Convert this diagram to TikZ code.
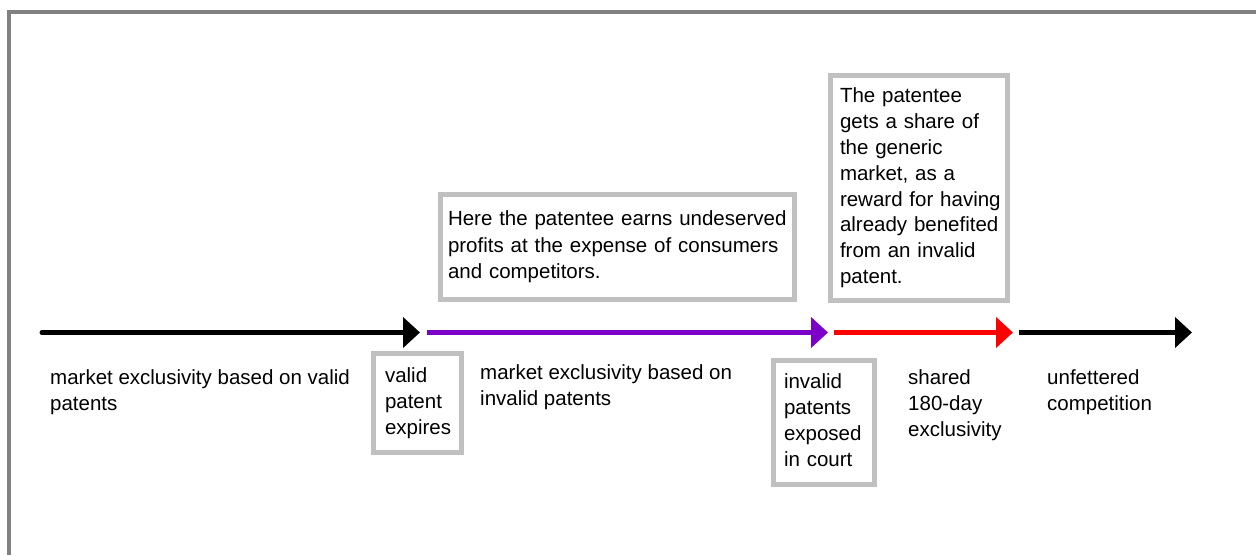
\documentclass[tikz,border=0pt]{standalone}
\usepackage{fontspec}
\setmainfont{Liberation Sans}
\usetikzlibrary{arrows.meta}
\definecolor{framegray}{HTML}{808080}
\definecolor{boxgray}{HTML}{C0C0C0}
\definecolor{segpurple}{RGB}{125,0,200}
\definecolor{segred}{RGB}{255,0,0}
\hyphenpenalty=10000
\exhyphenpenalty=10000
\tikzset{
  txtfont/.style={font=\fontsize{20.5}{26}\selectfont},
  freetext/.style={txtfont, anchor=north west, inner sep=0pt, align=left},
  graybox/.style={txtfont, draw=boxgray, line width=5pt, fill=white, rectangle,
     inner ysep=0pt, align=left},
  seg/.style={line width=5pt, -{Triangle[length=17pt, width=30pt]}},
}
\begin{document}
\begin{tikzpicture}[x=1pt,y=-1pt]
\useasboundingbox (0,0) rectangle (1256,555);
% frame (left and top only)
\draw[framegray, line width=4pt] (9,555) -- (9,12) -- (1256,12);

% timeline coordinates
\coordinate (t0) at (42,332.5);
\coordinate (t1) at (420,332.5);
\coordinate (t2) at (427,332.5);
\coordinate (t3) at (828,332.5);
\coordinate (t4) at (834,332.5);
\coordinate (t5) at (1013,332.5);
\coordinate (t6) at (1019,332.5);
\coordinate (t7) at (1192,332.5);

\draw[seg, black, line cap=round] (t0) -- (t1);
\draw[seg, segpurple] (t2) -- (t3);
\draw[seg, segred] (t4) -- (t5);
\draw[seg, black] (t6) -- (t7);

% boxes
\node[graybox, minimum width=88pt, minimum height=99pt, inner xsep=11.5pt, text width=65pt]
  (vpe) at (417.5,403) {\strut valid\\patent\\\mbox{expires}\strut};
\node[graybox, minimum width=101pt, minimum height=124pt, inner xsep=10.5pt, text width=80pt]
  (ipe) at (824,422.5) {\strut invalid\\patents\\exposed\\in court\strut};
\node[graybox, minimum width=354pt, minimum height=105pt, inner xsep=7.5pt, text width=339pt,
  font=\fontsize{20.5}{26.5}\selectfont]
  (topbox) at (617.5,247) {\strut \mbox{Here the patentee earns undeserved}\\\mbox{profits at the expense of consumers}\\and competitors.\strut};
\node[graybox, minimum width=177pt, minimum height=225pt, inner xsep=9.5pt, text width=158pt,
  font=\fontsize{20.5}{25.8}\selectfont]
  (rightbox) at (919,188) {\strut The patentee\\gets a share of\\the generic\\market, as a\\\mbox{reward for having}\\\mbox{already benefited}\\from an invalid\\patent.\strut};

% free texts
\node[freetext] (lefttext) at (50,365.8) {\strut market exclusivity based on valid\\patents};
\node[freetext] (midtext) at (480,361.3) {\strut market exclusivity based on\\invalid patents};
\node[freetext] (shared) at (908,366.3) {\strut shared\\180-day\\exclusivity};
\node[freetext] (unfettered) at (1047,366.3) {\strut unfettered\\competition};
\end{tikzpicture}
\end{document}
